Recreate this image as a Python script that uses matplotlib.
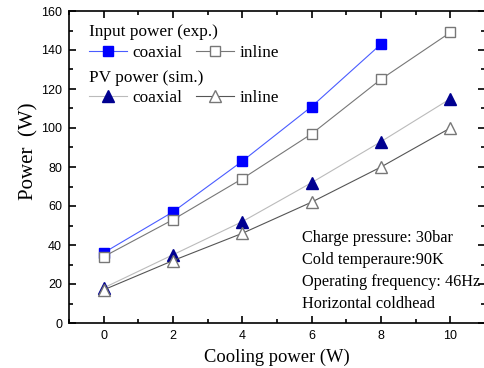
"""Input power and PV power versus cooling power."""

import matplotlib.pyplot as plt
from matplotlib.lines import Line2D
from matplotlib.ticker import MultipleLocator

cooling = [0, 2, 4, 6, 8, 10]
input_coaxial = [36, 57, 83, 111, 143]
input_inline = [34, 53, 74, 97, 125, 149]
pv_coaxial = [18, 35, 52, 72, 93, 115]
pv_inline = [17, 32, 46, 62, 80, 100]

notes = [
    "Charge pressure: 30bar",
    "Cold temperaure:90K",
    "Operating frequency: 46Hz",
    "Horizontal coldhead",
]

serif = "Liberation Serif"
sans = "Liberation Sans"

fig = plt.figure(figsize=(4.85, 3.68), dpi=100)
ax = fig.add_axes([69 / 485, 45 / 368, (485 - 69) / 485, (323 - 11) / 368])

ax.plot(cooling[:len(input_coaxial)], input_coaxial, color="#4a5cff", lw=0.8,
        marker="s", ms=7.5, mfc="#0000ff", mec="#0000ff")
ax.plot(cooling, input_inline, color="#777777", lw=0.8,
        marker="s", ms=7.5, mfc="white", mec="#777777")
ax.plot(cooling, pv_coaxial, color="#bbbbbb", lw=0.8,
        marker="^", ms=8.5, mfc="#000090", mec="#000090")
ax.plot(cooling, pv_inline, color="#555555", lw=0.8,
        marker="^", ms=8.5, mfc="white", mec="#777777")

ax.set_xlim(-1, 11)
ax.set_ylim(0, 160)
ax.xaxis.set_major_locator(MultipleLocator(2))
ax.xaxis.set_minor_locator(MultipleLocator(1))
ax.yaxis.set_major_locator(MultipleLocator(20))
ax.yaxis.set_minor_locator(MultipleLocator(10))
ax.tick_params(which="both", direction="in", top=True, right=True, width=1.2)
ax.tick_params(which="major", length=5, labelsize=9, pad=5)
ax.tick_params(which="minor", length=3)
for lab in ax.get_xticklabels() + ax.get_yticklabels():
    lab.set_family(sans)
for sp in ax.spines.values():
    sp.set_linewidth(1.2)

ax.set_xlabel("Cooling power (W)", family=serif, fontsize=13.3, labelpad=5)
ax.set_ylabel("Power  (W)", family=serif, fontsize=15)
ax.yaxis.set_label_coords(-0.073, 0.55)


def handle(**kw):
    return Line2D([], [], lw=0.8, **kw)


leg_kw = dict(ncol=2, frameon=False, handlelength=2.2, handletextpad=0.3,
              columnspacing=0.8, alignment="left", borderaxespad=0.2,
              labelspacing=0.25,
              prop={"family": serif, "size": 12.4},
              title_fontproperties={"family": serif, "size": 12.4})

leg1 = ax.legend(
    [handle(color="#4a5cff", marker="s", ms=7.5, mfc="#0000ff", mec="#0000ff"),
     handle(color="#777777", marker="s", ms=7.5, mfc="white", mec="#777777")],
    ["coaxial", "inline"], title="Input power (exp.)",
    loc="upper left", bbox_to_anchor=(0.024, 0.99), **leg_kw)
ax.add_artist(leg1)
ax.legend(
    [handle(color="#bbbbbb", marker="^", ms=8.5, mfc="#000090", mec="#000090"),
     handle(color="#555555", marker="^", ms=8.5, mfc="white", mec="#777777")],
    ["coaxial", "inline"], title="PV power (sim.)",
    loc="upper left", bbox_to_anchor=(0.024, 0.845), **leg_kw)

ax.text(0.56, 0.167, "\n".join(notes), transform=ax.transAxes,
        family=serif, fontsize=11.7, va="center", ha="left", linespacing=1.52)

fig.savefig("out.png", dpi=100)
